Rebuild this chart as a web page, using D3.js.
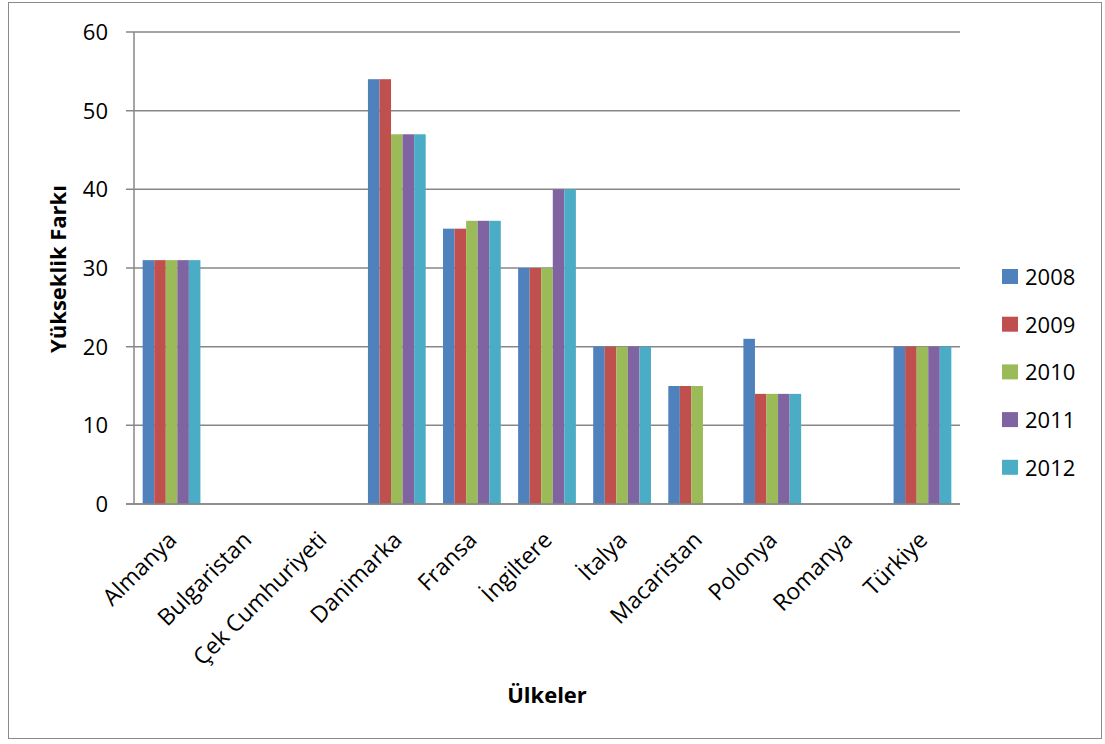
<!DOCTYPE html>
<html lang="tr">
<head>
<meta charset="UTF-8">
<title>Yükseklik Farkı</title>
<script src="https://d3js.org/d3.v7.min.js"></script>
<style>
    body { margin: 0; background: #fff; }
    text { font-family: "Open Sans", sans-serif; fill: #000; }
    .grid line { stroke: #878787; stroke-width: 1.5; }
</style>
</head>
<body>
<svg width="1105" height="744"></svg>
<script>
// data
const countries = ["Almanya", "Bulgaristan", "Çek Cumhuriyeti", "Danimarka", "Fransa",
                   "İngiltere", "İtalya", "Macaristan", "Polonya", "Romanya", "Türkiye"];
const years = ["2008", "2009", "2010", "2011", "2012"];
const v2008 = [31, null, null, 54, 35, 30, 20, 15, 21, null, 20];
const v2009 = [31, null, null, 54, 35, 30, 20, 15, 14, null, 20];
const v2010 = [31, null, null, 47, 36, 30, 20, 15, 14, null, 20];
const v2011 = [31, null, null, 47, 36, 40, 20, null, 14, null, 20];
const v2012 = [31, null, null, 47, 36, 40, 20, null, 14, null, 20];
const yTicks = [0, 10, 20, 30, 40, 50, 60];
const colors = ["#4F81BD", "#C0504D", "#9BBB59", "#8064A2", "#4BACC6"];

const series = [v2008, v2009, v2010, v2011, v2012];

const svg = d3.select("svg");

// outer frame
svg.append("rect")
    .attr("x", 8.5).attr("y", 2.5)
    .attr("width", 1093).attr("height", 736)
    .attr("fill", "none").attr("stroke", "#8a8a8a");

const pLeft = 134, pRight = 960, pTop = 32, pBottom = 504;

const x = d3.scaleBand().domain(countries).range([pLeft, pRight]).paddingInner(0).paddingOuter(0);
// gap width 150% -> group occupies 5 / 6.5 of each band
const groupPad = x.bandwidth() * 0.75 / 6.5;
const xs = d3.scaleBand().domain(years)
    .range([groupPad, x.bandwidth() - groupPad]);
const y = d3.scaleLinear().domain([0, 60]).range([pBottom, pTop]);

// horizontal grid + y ticks
const grid = svg.append("g").attr("class", "grid");
grid.selectAll("line").data(yTicks).join("line")
    .attr("x1", pLeft - 8).attr("x2", pRight)
    .attr("y1", d => y(d)).attr("y2", d => y(d));

svg.append("g").selectAll("text").data(yTicks).join("text")
    .attr("x", 108).attr("y", d => y(d))
    .attr("text-anchor", "end").attr("dy", "0.36em")
    .style("font-size", "22px")
    .text(d => d);

// bars
const groups = svg.append("g").selectAll("g").data(series).join("g")
    .attr("fill", (d, i) => colors[i]);
groups.each(function (vals, si) {
    d3.select(this).selectAll("rect")
        .data(vals.map((v, ci) => ({ v, c: countries[ci] })).filter(d => d.v != null))
        .join("rect")
        .attr("x", d => x(d.c) + xs(years[si]))
        .attr("width", xs.bandwidth())
        .attr("y", d => y(d.v))
        .attr("height", d => y(0) - y(d.v));
});

// axes lines
svg.append("line").attr("x1", pLeft).attr("x2", pLeft).attr("y1", pTop).attr("y2", pBottom)
    .attr("stroke", "#878787").attr("stroke-width", 1.5);
svg.append("line").attr("x1", pLeft - 8).attr("x2", pRight).attr("y1", pBottom).attr("y2", pBottom)
    .attr("stroke", "#878787").attr("stroke-width", 1.5);

// category labels, rotated
svg.append("g").selectAll("text").data(countries).join("text")
    .attr("transform", d => `translate(${x(d) + x.bandwidth() / 2 - 5},${pBottom + 26}) rotate(-45)`)
    .attr("text-anchor", "end").attr("dy", "0.7em")
    .style("font-size", "23px")
    .text(d => d);

// axis titles
svg.append("text")
    .attr("transform", `translate(66,269) rotate(-90)`)
    .attr("text-anchor", "middle")
    .style("font-size", "22px").style("font-weight", "bold")
    .text("Yükseklik Farkı");

svg.append("text")
    .attr("x", 547).attr("y", 703)
    .attr("text-anchor", "middle")
    .style("font-size", "22px").style("font-weight", "bold")
    .text("Ülkeler");

// legend
const legend = svg.append("g").selectAll("g").data(years).join("g")
    .attr("transform", (d, i) => `translate(1002,${277 + i * 47.7})`);
legend.append("rect")
    .attr("x", 0).attr("y", -8).attr("width", 16).attr("height", 15)
    .attr("fill", (d, i) => colors[i]);
legend.append("text")
    .attr("x", 23).attr("dy", "0.36em")
    .style("font-size", "22px")
    .text(d => d);
</script>
</body>
</html>
